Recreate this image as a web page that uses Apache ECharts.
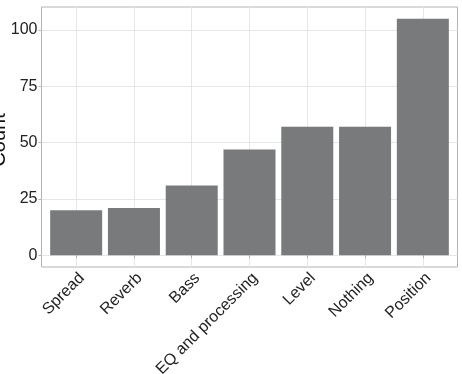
<!DOCTYPE html>
<html>
<head>
<meta charset="utf-8">
<script src="https://cdn.jsdelivr.net/npm/echarts@6/dist/echarts.min.js"></script>
<style>
html,body{margin:0;padding:0;background:#fff;}
#chart{width:462px;height:374px;}
</style>
</head>
<body>
<div id="chart"></div>
<script>
var categories = ["Spread", "Reverb", "Bass", "EQ and processing", "Level", "Nothing", "Position"];
var counts = [20, 21, 31, 47, 57, 57, 105];
var yTicks = [0, 25, 50, 75, 100];

var positions = categories.map(function (c, i) { return i + 1; });
var barData = counts.map(function (v, i) { return [positions[i], v]; });

var chart = echarts.init(document.getElementById('chart'));
var font = 'Liberation Sans, Arial, Helvetica, sans-serif';
chart.setOption({
  animation: false,
  grid: {
    left: 41.5, top: 7, right: 4.5, bottom: 107,
    containLabel: false, outerBoundsMode: 'none',
    show: true, borderColor: '#b3b3b3', borderWidth: 1, backgroundColor: '#fff'
  },
  xAxis: {
    type: 'value',
    min: 0.4, max: 7.6,
    axisLine: { show: false },
    axisTick: { show: true, length: 3, lineStyle: { color: '#b3b3b3' }, customValues: positions },
    splitLine: { show: true, lineStyle: { color: '#e6e6e6', width: 1 }, customValues: positions },
    axisLabel: {
      customValues: positions,
      rotate: 45, margin: 3, verticalAlign: 'top',
      fontFamily: font, fontSize: 16, color: '#222',
      formatter: function (v) { return categories[Math.round(v) - 1] || ''; }
    }
  },
  yAxis: {
    type: 'value',
    min: -5.25, max: 110.25,
    name: 'Count', nameLocation: 'middle', nameGap: 32, nameMoveOverlap: false,
    nameTextStyle: { fontFamily: font, fontSize: 20, color: '#111', padding: [0, 6, 0, 0] },
    axisLine: { show: false },
    axisTick: { show: true, length: 3, lineStyle: { color: '#b3b3b3' }, customValues: yTicks },
    splitLine: { show: true, lineStyle: { color: '#e6e6e6', width: 1 }, customValues: yTicks },
    axisLabel: { customValues: yTicks, margin: 4, fontFamily: font, fontSize: 16, color: '#222' }
  },
  series: [{
    type: 'bar',
    data: barData,
    barWidth: '90%',
    itemStyle: { color: '#797a7c' }
  }]
});
</script>
</body>
</html>
